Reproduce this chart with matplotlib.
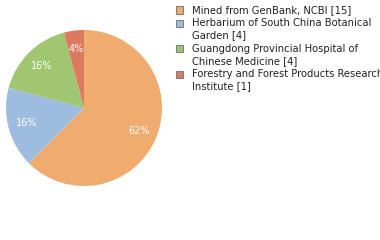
import matplotlib
matplotlib.use("Agg")
from matplotlib import pyplot as plt
from matplotlib.patches import Rectangle
import numpy as np

sources = ["Mined from GenBank, NCBI [15]",
           "Herbarium of South China Botanical\nGarden [4]",
           "Guangdong Provincial Hospital of\nChinese Medicine [4]",
           "Forestry and Forest Products Research\nInstitute [1]"]
counts = [15, 4, 4, 1]
pct_labels = ["62%", "16%", "16%", "4%"]
colors = ["#EFAC6E", "#9EBBE0", "#A0C672", "#DB7A5E"]

fig = plt.figure(figsize=(3.8, 2.4), dpi=100)
ax = fig.add_axes([6 / 380, 54 / 240, 156 / 380, 156 / 240])
wedges, _ = ax.pie(counts, colors=colors, startangle=90, counterclock=False,
                   wedgeprops={"linewidth": 0})
ax.set_xlim(-1, 1)
ax.set_ylim(-1, 1)
ax.set_aspect("equal")

# percentage labels inside the wedges
for w, lab in zip(wedges, pct_labels):
    mid = np.deg2rad((w.theta1 + w.theta2) / 2)
    ax.text(0.76 * np.cos(mid), 0.76 * np.sin(mid), lab, color="white",
            fontsize=7, ha="center", va="center")

# legend on the right
line_h = 12.5
y = 10
for src, c in zip(sources, colors):
    fig.patches.append(Rectangle((175.5 / 380, 1 - (y + 3.5) / 240), 7 / 380, 7 / 240,
                                 transform=fig.transFigure, facecolor=c,
                                 edgecolor="#808080", linewidth=0.8))
    lines = src.split("\n")
    for k, ln in enumerate(lines):
        fig.text(192 / 380, 1 - (y + k * line_h) / 240, ln, fontsize=7.2,
                 color="#222222", ha="left", va="center")
    y += line_h * len(lines) + 0.5

fig.savefig("out.png", dpi=100)
